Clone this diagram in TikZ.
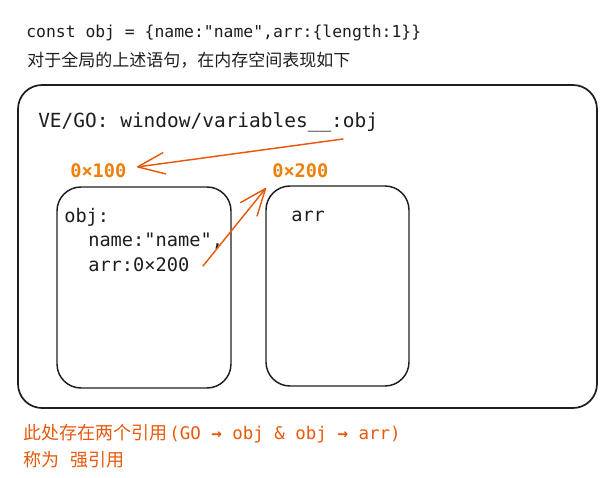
\documentclass[tikz,border=0pt]{standalone}
\usepackage{fontspec}
\usepackage{tikz}
\usetikzlibrary{arrows.meta}

\newfontfamily\codefont{DejaVu Sans Mono}
\newfontfamily\cjkfont{Noto Sans CJK SC}

\definecolor{inkblack}{RGB}{30,30,30}
\definecolor{refred}{RGB}{232,89,12}
\definecolor{addrorange}{RGB}{236,128,10}

\tikzset{
  memframe/.style={draw=inkblack, line width=1.1pt, rounded corners=18pt},
  refarrow/.style={draw=refred, line width=1.1pt, line cap=round,
    -{Straight Barb[length=20pt, width=16pt, round]}},
  codetext/.style={inner sep=0pt, anchor=base west, text=inkblack,
    font=\codefont\fontsize{14}{17}\selectfont},
  addrtext/.style={codetext, text=addrorange,
    font=\codefont\bfseries\fontsize{14}{17}\selectfont},
  cjktext/.style={inner sep=0pt, anchor=base west, text=inkblack,
    font=\cjkfont\fontsize{12.75}{15}\selectfont},
}

\begin{document}
\begin{tikzpicture}[x=0.75pt,y=0.75pt,yscale=-1,xscale=1]
\useasboundingbox (0,0) rectangle (615,478);

% Text Node
\node (decl) [codetext, font=\codefont\fontsize{12.3}{15}\selectfont] at (26,38) {const obj = \{name:"name",arr:\{length:1\}\}};
% Text Node
\node (note) [cjktext] at (27,67) {对于全局的上述语句，在内存空间表现如下};

%Shape: Rectangle [memory]
\draw [memframe, line width=1.3pt]  (18,85) rectangle (597,408);
%Shape: Rectangle [obj heap]
\draw [memframe]  (57,187) rectangle (231,388);
%Shape: Rectangle [arr heap]
\draw [memframe]  (266,186) rectangle (409,386);

% Text Node
\node (govar) [codetext, font=\codefont\fontsize{14.6}{17}\selectfont] at (38,128) {VE/GO: window/variables\_\_:obj};
% Text Node
\node (addrobj) [addrtext] at (70,178) {0×100};
% Text Node
\node (addrarr) [addrtext] at (272,178) {0×200};
% Text Node
\node (objkey) [codetext] at (64,223) {obj:};
% Text Node
\node (namekey) [codetext] at (88,247) {name:"name",};
% Text Node
\node (arrkey) [codetext] at (88,272) {arr:0×200};
% Text Node
\node (arrlabel) [codetext] at (291,222) {arr};

%Straight Lines [GO -> obj]
\coordinate (gotail) at (343,139);
\coordinate (gohead) at (137,167);
\draw [refarrow]  (gotail) -- (gohead);
%Straight Lines [obj -> arr]
\coordinate (arrtail) at (203,266);
\coordinate (arrhead) at (266,188);
\draw [refarrow]  (arrtail) -- (arrhead);

% Text Node
\node (summary) [cjktext, text=refred, font=\cjkfont\fontsize{13.5}{16}\selectfont] at (23,439) {此处存在两个引用\hspace{1.5pt}{\codefont\fontsize{13.1}{16}\selectfont(GO {\bfseries →} obj \& obj {\bfseries →} arr)}};
% Text Node
\node (strongref) [cjktext, text=refred, font=\cjkfont\fontsize{13.5}{16}\selectfont] at (23,466) {称为\hspace{0.6em}强引用};

\end{tikzpicture}
\end{document}
